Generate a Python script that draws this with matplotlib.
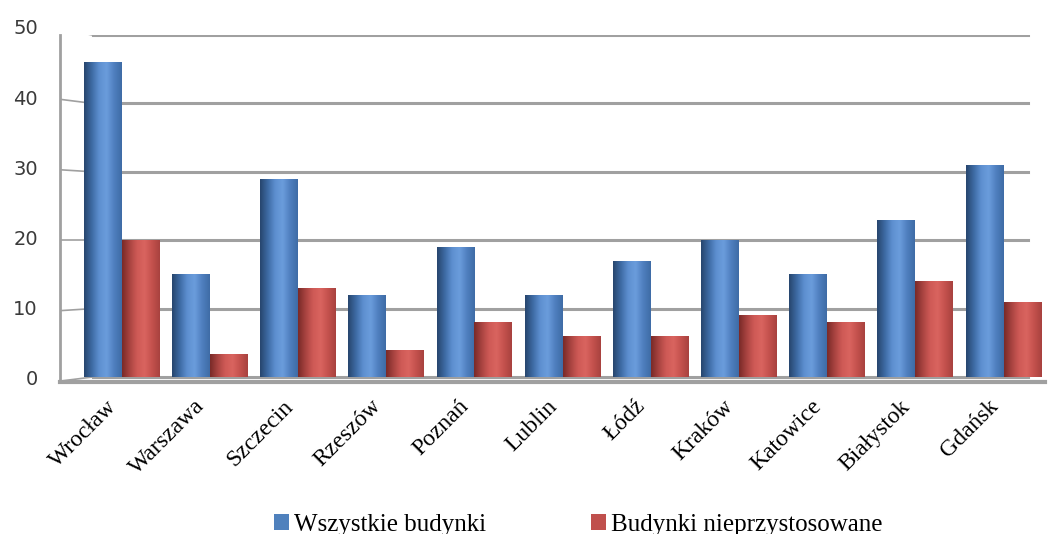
import numpy as np
import matplotlib
matplotlib.use("Agg")
import matplotlib.pyplot as plt
import matplotlib.transforms as mtransforms
from matplotlib.colors import LinearSegmentedColormap

miasta = ["Wrocław", "Warszawa", "Szczecin", "Rzeszów", "Poznań", "Lublin",
          "Łódź", "Kraków", "Katowice", "Białystok", "Gdańsk"]
wszystkie = [46, 15, 29, 12, 19, 12, 17, 20, 15, 23, 31]
nieprzystosowane = [20, 3.3, 13, 4, 8, 6, 6, 9, 8, 14, 11]
etykiety_serii = ["Wszystkie budynki", "Budynki nieprzystosowane"]
podzialka = [0, 10, 20, 30, 40, 50]

niebieski = "#4f81bd"
czerwony = "#c0504d"
cmap_nieb = LinearSegmentedColormap.from_list(
    "nieb", ["#27466e", "#3d6aa3", "#5d8fd0", "#6b9ddc", "#4f7fbf", "#3f6ca6"])
cmap_czer = LinearSegmentedColormap.from_list(
    "czer", ["#7a2a28", "#a94441", "#cf5a56", "#d9645f", "#c4514d", "#a8423f"])

fig = plt.figure(figsize=(10.5, 5.34), dpi=100)
ax = fig.add_axes([60 / 1050, (534 - 382) / 534, 985 / 1050, 347 / 534])

x = np.arange(len(miasta))
szer = 0.43
b1 = ax.bar(x - szer / 2, wszystkie, szer, color=niebieski, zorder=3,
            label=etykiety_serii[0])
b2 = ax.bar(x + szer / 2, nieprzystosowane, szer, color=czerwony, zorder=3,
            label=etykiety_serii[1])

# cylindryczne cieniowanie słupków
grad = np.linspace(0, 1, 64).reshape(1, -1)
for bars, cm in ((b1, cmap_nieb), (b2, cmap_czer)):
    for p in bars:
        x0, w, h = p.get_x(), p.get_width(), p.get_height()
        im = ax.imshow(grad, cmap=cm, aspect="auto", zorder=4,
                       extent=(x0, x0 + w, 0, h), interpolation="bicubic")
        im.set_clip_path(p)

# tylna ściana: linie siatki i skośne połączenia z osią
for v in podzialka:
    ax.plot([-0.33, 10.28], [v, v], color="#a0a0a0", lw=2.2, zorder=1)
    dy = (v - 20) * 0.03
    ax.plot([-0.70, -0.33], [v + dy, v], color="#a0a0a0", lw=1.2, zorder=1)

for s in ("top", "right"):
    ax.spines[s].set_visible(False)
ax.spines["left"].set_color("#a0a0a0")
ax.spines["left"].set_linewidth(2)
ax.spines["bottom"].set_color("#a0a0a0")
ax.spines["bottom"].set_linewidth(3)

ax.set_yticks(podzialka)
ax.set_yticklabels([str(v) for v in podzialka], fontsize=14,
                   family="DejaVu Sans", color="#3a3a3a")
ax.tick_params(axis="y", length=0, pad=16)
# etykiety osi leżą na przedniej płaszczyźnie, więc rozchodzą się ku górze
for v, lab in zip(podzialka, ax.get_yticklabels()):
    dy = mtransforms.ScaledTranslation(0, v * 0.16 / 100, fig.dpi_scale_trans)
    lab.set_transform(lab.get_transform() + dy)

ax.set_xticks(x)
ax.set_xticklabels(miasta, rotation=45, ha="right", rotation_mode="anchor",
                   family="Liberation Serif", fontsize=17)
ax.tick_params(axis="x", length=0, pad=10)
przesun = mtransforms.ScaledTranslation(-16 / 100, 0, fig.dpi_scale_trans)
for lab in ax.get_xticklabels():
    lab.set_transform(lab.get_transform() + przesun)

ax.set_xlim(-0.70, 10.47)
ax.set_ylim(-0.73, 50)

fig.legend(handles=[b1, b2], labels=etykiety_serii, loc="lower center",
           bbox_to_anchor=(0.551, -0.045), ncol=2, frameon=False,
           prop={"family": "Liberation Serif", "size": 18},
           handlelength=0.6, handleheight=0.6, columnspacing=4.2,
           handletextpad=0.2)

fig.savefig("out.png", dpi=100)
